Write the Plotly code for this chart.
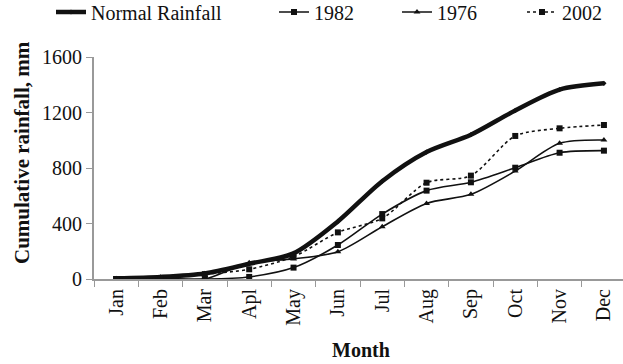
import plotly.graph_objects as go

months = ["Jan", "Feb", "Mar", "Apl", "May", "Jun", "Jul", "Aug", "Sep", "Oct", "Nov", "Dec"]
normal_rainfall = [5, 15, 40, 110, 185, 415, 705, 915, 1040, 1215, 1365, 1410]
rain_1982 = [0, 2, 0, 15, 82, 245, 468, 637, 697, 802, 910, 925]
rain_1976 = [0, 0, 0, 118, 145, 197, 377, 545, 610, 778, 978, 1002]
rain_2002 = [0, 5, 35, 70, 161, 336, 437, 694, 745, 1031, 1086, 1110]

FONT = "Liberation Serif"
FS = 20
INK = "#111111"
AXIS = "#999999"

# figure and plot area in pixels
FW, FH = 623, 364
L, T, W, H = 94, 57, 529, 222

fig = go.Figure()
fig.add_trace(go.Scatter(
    x=months, y=normal_rainfall, name="Normal Rainfall", mode="lines+markers",
    line=dict(color=INK, width=4.5, shape="spline", smoothing=0.8),
    marker=dict(symbol="diamond", size=4, color=INK), legend="legend"))
fig.add_trace(go.Scatter(
    x=months, y=rain_1982, name="1982", mode="lines+markers",
    line=dict(color=INK, width=1.6, shape="spline", smoothing=0.8),
    marker=dict(symbol="square", size=6, color=INK), legend="legend2"))
fig.add_trace(go.Scatter(
    x=months, y=rain_1976, name="1976", mode="lines+markers",
    line=dict(color=INK, width=1.6, shape="spline", smoothing=0.8),
    marker=dict(symbol="triangle-up", size=6, color=INK), legend="legend3"))
fig.add_trace(go.Scatter(
    x=months, y=rain_2002, name="2002", mode="lines+markers",
    line=dict(color=INK, width=1.6, dash="dot", shape="spline", smoothing=0.8),
    marker=dict(symbol="square", size=6, color=INK), legend="legend4"))


def legend_at(px):
    return dict(orientation="h", xref="container", yref="container",
                x=px / FW, y=1 - 12 / FH, xanchor="left", yanchor="middle",
                font=dict(family=FONT, size=FS, color=INK),
                itemwidth=30, bgcolor="rgba(0,0,0,0)")


fig.update_layout(
    width=FW, height=FH,
    margin=dict(l=L, r=FW - L - W, t=T, b=FH - T - H, autoexpand=False),
    paper_bgcolor="white", plot_bgcolor="white",
    font=dict(family=FONT, size=FS, color=INK),
    showlegend=True,
    legend=legend_at(51),
    legend2=legend_at(274),
    legend3=legend_at(397),
    legend4=legend_at(522),
    xaxis=dict(type="category", range=[-0.5, 11.43], tickson="boundaries",
               ticks="outside", ticklen=6, tickcolor=AXIS, showline=True,
               linecolor=AXIS, linewidth=2, showgrid=False, zeroline=False,
               tickangle=-90, tickfont=dict(family=FONT, size=FS, color=INK)),
    yaxis=dict(range=[0, 1600], tickvals=[0, 400, 800, 1200, 1600],
               ticks="outside", ticklen=6, tickcolor=AXIS, showline=True,
               linecolor=AXIS, linewidth=2, showgrid=False, zeroline=False,
               tickfont=dict(family=FONT, size=FS, color=INK)),
    annotations=[
        dict(text="<b>Month</b>", xref="paper", yref="paper",
             x=(361 - L) / W, y=-(350 - (T + H)) / H, xanchor="center", yanchor="middle",
             showarrow=False, font=dict(family=FONT, size=FS, color=INK)),
        dict(text="<b>Cumulative rainfall, mm</b>", xref="paper", yref="paper",
             x=-(L - 22) / W, y=(T + H - 153) / H, xanchor="center", yanchor="middle",
             textangle=-90, showarrow=False, font=dict(family=FONT, size=21, color=INK)),
    ],
)

fig.write_html("out.html")
